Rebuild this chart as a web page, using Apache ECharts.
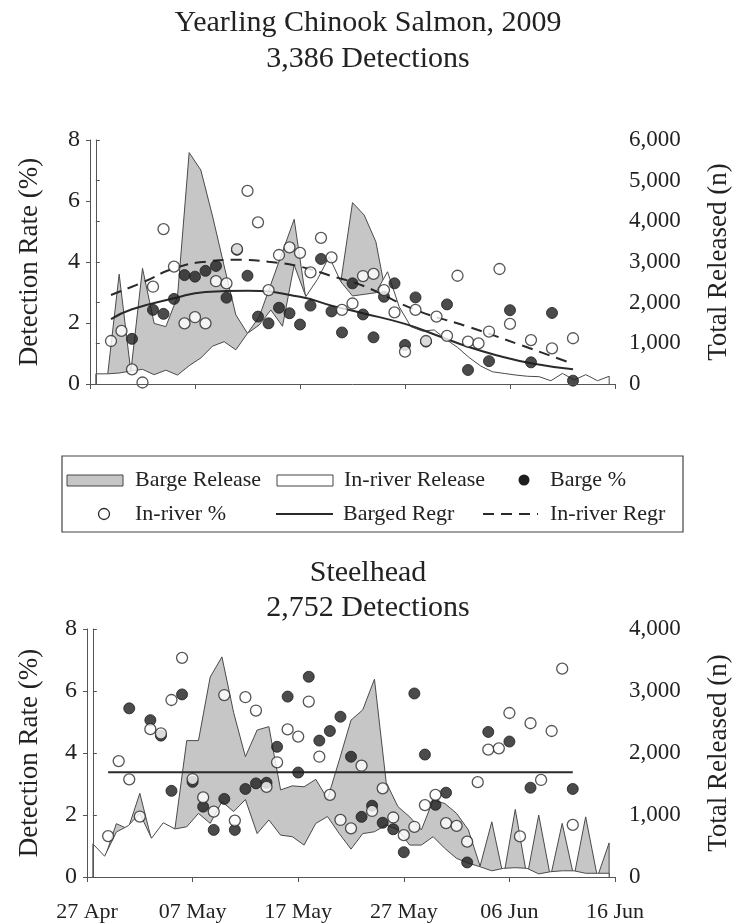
<!DOCTYPE html>
<html>
<head>
<meta charset="utf-8">
<script src="https://cdn.jsdelivr.net/npm/echarts@6/dist/echarts.min.js"></script>
<style>
  html, body { margin: 0; padding: 0; background: #ffffff; }
  #chart { width: 732px; height: 924px; }
</style>
</head>
<body>
<div id="chart"></div>
<script>
// Days counted from 27 Apr 2009; one tick label every 10 days.
const dateTicks = ['27 Apr', '07 May', '17 May', '27 May', '06 Jun', '16 Jun'];

// Days on which detection percentages were computed (day 2 .. day 46).
const pctDays = [2,3,4,5,6,7,8,9,10,11,12,13,14,15,16,17,18,19,20,21,22,23,24,25,26,27,28,29,30,31,32,33,34,35,36,37,38,39,40,41,42,43,44,45,46];

// ---- Yearling Chinook salmon, 2009 ----
const chinookInriverPct = [1.41,1.74,0.48,0.05,3.19,5.08,3.85,1.99,2.19,1.99,3.37,3.30,4.42,6.33,5.30,3.08,4.23,4.48,4.30,3.66,4.79,4.15,2.43,2.64,3.54,3.61,3.08,2.35,1.06,2.43,1.41,2.21,1.58,3.55,1.39,1.33,1.72,3.77,1.97,null,1.44,null,1.17,null,1.50];
const chinookBargePct = [null,null,1.48,null,2.43,2.30,2.79,3.57,3.52,3.71,3.87,2.83,4.40,3.55,2.21,1.99,2.50,2.32,1.95,2.57,4.10,2.38,1.69,3.30,2.28,1.53,2.86,3.30,1.28,2.84,1.39,null,2.61,null,0.46,null,0.75,null,2.42,null,0.71,null,2.33,null,0.11];

// Fitted trend curves (day, detection %)
const chinookBargeRegrDays = [2,4,8,11,15,20,23,26,30,33,36,39,42,46];
const chinookBargeRegr     = [2.13,2.45,2.81,3.02,3.06,2.86,2.57,2.32,1.97,1.60,1.22,0.92,0.68,0.48];
const chinookInriverRegrDays = [2,5,8,11,14,17,20,23,26,31,36,41,46];
const chinookInriverRegr     = [2.92,3.33,3.79,4.01,4.07,4.01,3.85,3.54,3.22,2.43,1.88,1.28,0.66];

// Numbers released per release group (45 groups spread over the season)
const chinookBargeRelease   = [0,200,2700,300,2845,1490,1410,2150,5690,5260,4130,2900,1700,1245,1650,2450,3250,4050,2100,2000,2300,2515,4460,4155,3500,2000,0,0,0,0,0,0,0,0,0,0,0,0,0,0,0,0,0,0,0];
const chinookInriverRelease = [250,250,270,320,360,230,340,220,450,640,930,1040,840,1245,1450,1820,1420,2925,2150,2575,3130,2515,2165,2205,2245,2760,1900,1410,1300,1330,1100,900,650,440,300,260,220,190,180,80,260,100,230,80,190];

// ---- Steelhead ----
const steelInriverPct = [1.32,3.74,3.15,1.95,4.77,4.63,5.71,7.07,3.16,2.57,2.11,5.87,1.82,5.80,5.37,2.91,3.70,4.76,4.53,5.66,3.88,2.65,1.84,1.57,3.59,2.13,2.86,1.92,1.35,1.62,2.32,2.65,1.74,1.65,1.14,3.06,4.11,4.15,5.29,1.31,4.96,3.13,4.71,6.72,1.68];
const steelBargePct = [null,null,5.44,null,5.06,4.56,2.78,5.89,3.07,2.27,1.52,2.52,1.52,2.84,3.02,3.04,4.20,5.82,3.37,6.46,4.40,4.71,5.17,3.88,1.94,2.30,1.75,1.54,0.80,5.92,3.95,2.33,2.72,null,0.47,null,4.68,null,4.37,null,2.88,null,null,null,2.84];
const steelRegrDays = [2,46];
const steelRegr     = [3.38,3.38];
const steelBargeRelease   = [0,300,860,775,1350,600,750,785,2200,2200,3225,3550,2650,1940,2370,2425,1405,1470,1455,1575,1260,1885,2530,2695,3190,1525,1135,970,760,1240,1185,1025,760,175,890,0,1090,0,1000,0,865,0,970,0,550];
const steelInriverRelease = [535,335,725,825,1025,625,875,775,810,1025,865,1215,1055,1250,700,920,675,650,515,865,975,700,450,700,730,840,760,515,515,650,460,300,225,165,100,140,150,140,50,85,100,100,60,60,60];

const FONT = "'Liberation Serif', 'Times New Roman', serif";
const INK = '#222';
const AXIS = '#555';
const GRAY_FILL = '#c6c6c6';

function pairs(xs, ys) {
  const out = [];
  xs.forEach((x, i) => { if (ys[i] !== null && ys[i] !== undefined) out.push([x, ys[i]]); });
  return out;
}
// Release polygon: closed down to zero at both ends so the outline is drawn all round.
function releasePolygon(vals) {
  const pts = [[0, 0]];
  vals.forEach((v, i) => pts.push([i, v]));
  pts.push([vals.length - 1, 0]);
  return pts;
}
const thousands = v => String(v).replace(/\B(?=(\d{3})+(?!\d))/g, ',');

function dateAxis(gridIndex, showLabels) {
  return {
    type: 'value', gridIndex, min: 0, max: 50, interval: 10, z: 6,
    axisLine: { show: true, onZero: false, lineStyle: { color: AXIS, width: 1 } },
    axisTick: { show: true, length: 5, lineStyle: { color: AXIS } },
    splitLine: { show: false },
    axisLabel: {
      show: showLabels, margin: 24, color: INK, fontFamily: FONT, fontSize: 22,
      formatter: v => dateTicks[Math.round(v / 10)]
    }
  };
}
function releaseAxis(gridIndex, n) {
  return { type: 'value', gridIndex, min: -0.5, max: n - 0.5, show: false };
}
function pctAxis(gridIndex) {
  return {
    type: 'value', gridIndex, position: 'left', min: 0, max: 8, interval: 2, z: 6,
    axisLine: { show: true, lineStyle: { color: AXIS, width: 1 } },
    axisTick: { show: true, length: 4, lineStyle: { color: AXIS } },
    splitLine: { show: false },
    axisLabel: { margin: 10, color: INK, fontFamily: FONT, fontSize: 24 }
  };
}
function countAxis(gridIndex, max) {
  return {
    type: 'value', gridIndex, position: 'right', min: 0, max, interval: 1000, z: 6,
    axisLine: { show: true, lineStyle: { color: AXIS, width: 1 } },
    axisTick: { show: true, length: 4, lineStyle: { color: AXIS } },
    splitLine: { show: false },
    axisLabel: { margin: 14, color: INK, fontFamily: FONT, fontSize: 23, formatter: thousands }
  };
}

function releaseSeries(vals, xi, yi, fill, z) {
  return {
    type: 'line', xAxisIndex: xi, yAxisIndex: yi, data: releasePolygon(vals),
    symbol: 'none', z, animation: false,
    lineStyle: { color: '#4a4a4a', width: 1 },
    areaStyle: { color: fill, opacity: 1, origin: 'start' }
  };
}
function pctScatter(vals, xi, yi, filled) {
  return {
    type: 'scatter', xAxisIndex: xi, yAxisIndex: yi, data: pairs(pctDays, vals),
    symbol: 'circle', symbolSize: 11, z: filled ? 4 : 5, animation: false,
    itemStyle: filled
      ? { color: '#1e1e1e', borderColor: '#1e1e1e', borderWidth: 1 }
      : { color: '#ffffff', borderColor: '#2a2a2a', borderWidth: 1.3 }
  };
}
function trendLine(days, vals, xi, yi, dashed) {
  return {
    type: 'line', xAxisIndex: xi, yAxisIndex: yi, data: pairs(days, vals),
    symbol: 'none', smooth: 0.5, z: 3, animation: false,
    lineStyle: { color: '#2a2a2a', width: 2, type: dashed ? [11, 7] : 'solid' }
  };
}

const chart = echarts.init(document.getElementById('chart'), null, { renderer: 'canvas' });

const titleText = (txt, y) => ({
  type: 'text', x: 368, y,
  style: { text: txt, font: `30px ${FONT}`, fill: INK, textAlign: 'center', textVerticalAlign: 'middle' }
});
const vText = (txt, x, y) => ({
  type: 'text', x, y, rotation: Math.PI / 2,
  style: { text: txt, font: `27px ${FONT}`, fill: INK, textAlign: 'center', textVerticalAlign: 'middle' }
});
const legText = (txt, x, y) => ({
  type: 'text', x, y, style: { text: txt, font: `22px ${FONT}`, fill: INK, textVerticalAlign: 'middle' }
});

const legendY1 = 480, legendY2 = 514;
const graphics = [
  titleText('Yearling Chinook Salmon, 2009', 23),
  titleText('3,386 Detections', 59),
  titleText('Steelhead', 573),
  titleText('2,752 Detections', 608),
  vText('Detection Rate (%)', 30, 262),
  vText('Total Released (n)', 719, 262),
  vText('Detection Rate (%)', 30, 753),
  vText('Total Released (n)', 719, 753),
  // legend frame
  { type: 'rect', shape: { x: 62, y: 456, width: 621, height: 76 },
    style: { fill: '#fff', stroke: '#444', lineWidth: 1.2 } },
  { type: 'rect', shape: { x: 67, y: legendY1 - 5, width: 56, height: 11 },
    style: { fill: GRAY_FILL, stroke: '#444', lineWidth: 1 } },
  legText('Barge Release', 135, legendY1),
  { type: 'rect', shape: { x: 277, y: legendY1 - 5, width: 56, height: 11 },
    style: { fill: '#fff', stroke: '#444', lineWidth: 1 } },
  legText('In-river Release', 344, legendY1),
  { type: 'circle', shape: { cx: 524, cy: legendY1, r: 5.5 }, style: { fill: '#1e1e1e' } },
  legText('Barge %', 550, legendY1),
  { type: 'circle', shape: { cx: 104, cy: legendY2, r: 5.5 },
    style: { fill: '#fff', stroke: '#2a2a2a', lineWidth: 1.3 } },
  legText('In-river %', 135, legendY2),
  { type: 'line', shape: { x1: 276, y1: legendY2, x2: 333, y2: legendY2 },
    style: { stroke: '#2a2a2a', lineWidth: 2 } },
  legText('Barged Regr', 343, legendY2),
  { type: 'line', shape: { x1: 483, y1: legendY2, x2: 538, y2: legendY2 },
    style: { stroke: '#2a2a2a', lineWidth: 2, lineDash: [11, 7] } },
  legText('In-river Regr', 550, legendY2)
];

chart.setOption({
  backgroundColor: '#ffffff',
  animation: false,
  grid: [
    { left: 90, top: 140, width: 525, height: 244 },
    { left: 87, top: 629, width: 528, height: 248 }
  ],
  xAxis: [
    dateAxis(0, false),
    releaseAxis(0, chinookBargeRelease.length),
    dateAxis(1, true),
    releaseAxis(1, steelBargeRelease.length)
  ],
  yAxis: [
    pctAxis(0),
    countAxis(0, 6000),
    pctAxis(1),
    countAxis(1, 4000)
  ],
  series: [
    releaseSeries(chinookBargeRelease, 1, 1, GRAY_FILL, 1),
    releaseSeries(chinookInriverRelease, 1, 1, '#ffffff', 2),
    trendLine(chinookBargeRegrDays, chinookBargeRegr, 0, 0, false),
    trendLine(chinookInriverRegrDays, chinookInriverRegr, 0, 0, true),
    pctScatter(chinookBargePct, 0, 0, true),
    pctScatter(chinookInriverPct, 0, 0, false),

    releaseSeries(steelBargeRelease, 3, 3, GRAY_FILL, 1),
    releaseSeries(steelInriverRelease, 3, 3, '#ffffff', 2),
    trendLine(steelRegrDays, steelRegr, 2, 2, false),
    pctScatter(steelBargePct, 2, 2, true),
    pctScatter(steelInriverPct, 2, 2, false)
  ],
  graphic: graphics
});
</script>
</body>
</html>
